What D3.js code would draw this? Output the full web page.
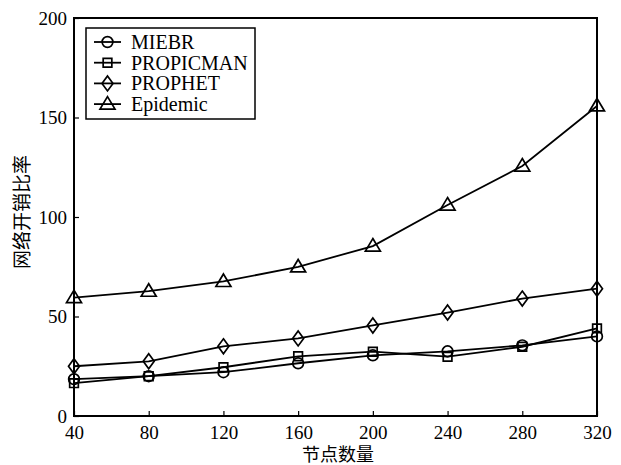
<!DOCTYPE html>
<html>
<head>
<meta charset="utf-8">
<script src="https://cdn.jsdelivr.net/npm/d3@7"></script>
<style>
  html, body { margin: 0; padding: 0; background: #fff; }
  svg { display: block; }
  .num { font-family: "Liberation Serif", "Times New Roman", serif; }
  .cjk { font-family: "Noto Sans CJK SC", sans-serif; }
</style>
</head>
<body>
<svg id="chart" width="621" height="465"></svg>
<script>
// Node counts on the x axis
const nodeCounts = [40, 80, 120, 160, 200, 240, 280, 320];

// Network overhead ratio per routing protocol
const miebr     = [18.5, 20, 22, 26.5, 30.5, 32.5, 35.5, 40];
const propicman = [16.5, 20, 24.5, 30, 32.3, 29.8, 34.8, 44];
const prophet   = [25, 27.5, 35, 39, 45.5, 52, 59, 64];
const epidemic  = [59.5, 62.7, 67.6, 74.9, 85.4, 106, 125.6, 155.8];

const seriesNames = ["MIEBR", "PROPICMAN", "PROPHET", "Epidemic"];
const seriesValues = [miebr, propicman, prophet, epidemic];
const seriesMarkers = ["circle", "square", "diamond", "triangle"];

const yTicks = [0, 50, 100, 150, 200];
const xTitle = "节点数量";
const yTitle = "网络开销比率";

const svg = d3.select("#chart");
const plotL = 74, plotR = 597, plotT = 18, plotB = 416;

const x = d3.scaleLinear().domain([40, 320]).range([plotL, plotR]);
const y = d3.scaleLinear().domain([0, 200]).range([plotB, plotT]);

// Bottom axis with inward ticks
const xAxis = svg.append("g")
  .attr("transform", `translate(0,${plotB})`)
  .call(d3.axisBottom(x).tickValues(nodeCounts).tickSizeInner(-5).tickSizeOuter(0).tickPadding(10));
xAxis.select(".domain").remove();
xAxis.selectAll("line").attr("stroke", "#000").attr("stroke-width", 1.2);
xAxis.selectAll("text").attr("class", "num").attr("font-size", 19).attr("fill", "#000");

// Left axis with inward ticks
const yAxis = svg.append("g")
  .attr("transform", `translate(${plotL},0)`)
  .call(d3.axisLeft(y).tickValues(yTicks).tickSizeInner(-5).tickSizeOuter(0).tickPadding(7));
yAxis.select(".domain").remove();
yAxis.selectAll("line").attr("stroke", "#000").attr("stroke-width", 1.2);
yAxis.selectAll("text").attr("class", "num").attr("font-size", 19).attr("fill", "#000");

// Plot frame
svg.append("rect")
  .attr("x", plotL).attr("y", plotT)
  .attr("width", plotR - plotL).attr("height", plotB - plotT)
  .attr("fill", "none").attr("stroke", "#000").attr("stroke-width", 2);

const symbolFor = {
  circle: d3.symbolCircle,
  square: d3.symbolSquare
};
const sizeFor = { circle: 90, square: 75 };

function drawMarker(g, kind, cx, cy) {
  let path;
  if (kind === "diamond") {
    path = "M0,-7.5L5.5,0L0,7.5L-5.5,0Z";
  } else if (kind === "triangle") {
    path = "M0,-7.5L7.5,5L-7.5,5Z";
  } else {
    path = d3.symbol().type(symbolFor[kind]).size(sizeFor[kind])();
  }
  g.append("path")
    .attr("d", path)
    .attr("transform", `translate(${cx},${cy})`)
    .attr("fill", "none")
    .attr("stroke", "#000")
    .attr("stroke-width", 1.7);
}

const line = d3.line()
  .x((d, i) => x(nodeCounts[i]))
  .y(d => y(d));

seriesValues.forEach((vals, k) => {
  const g = svg.append("g");
  g.append("path")
    .attr("d", line(vals))
    .attr("fill", "none")
    .attr("stroke", "#000")
    .attr("stroke-width", 1.8);
  vals.forEach((v, i) => drawMarker(g, seriesMarkers[k], x(nodeCounts[i]), y(v)));
});

// Legend
const legend = svg.append("g");
legend.append("rect")
  .attr("x", 86).attr("y", 28).attr("width", 169).attr("height", 91)
  .attr("fill", "#fff").attr("stroke", "#000").attr("stroke-width", 1.5);
seriesNames.forEach((name, k) => {
  const ly = 42 + k * 20.7;
  legend.append("line")
    .attr("x1", 94).attr("x2", 121).attr("y1", ly).attr("y2", ly)
    .attr("stroke", "#000").attr("stroke-width", 1.8);
  drawMarker(legend, seriesMarkers[k], 107.5, ly);
  legend.append("text")
    .attr("class", "num")
    .attr("x", 131).attr("y", ly)
    .attr("dy", "0.35em")
    .attr("font-size", 20)
    .text(name);
});

// Axis titles
svg.append("text")
  .attr("class", "cjk")
  .attr("x", 338).attr("y", 455)
  .attr("dy", "0.35em")
  .attr("text-anchor", "middle")
  .attr("font-size", 18)
  .text(xTitle);

svg.append("text")
  .attr("class", "cjk")
  .attr("transform", "translate(22,212) rotate(-90)")
  .attr("dy", "0.35em")
  .attr("text-anchor", "middle")
  .attr("font-size", 19)
  .text(yTitle);
</script>
</body>
</html>
